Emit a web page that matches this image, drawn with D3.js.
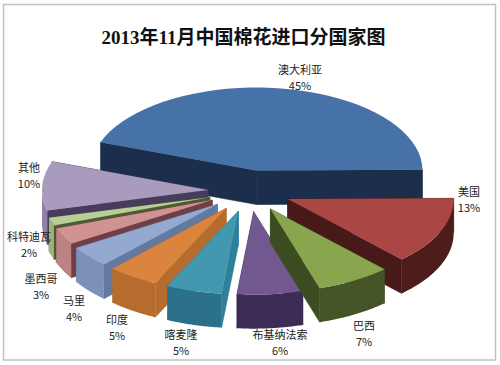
<!DOCTYPE html>
<html>
<head>
<meta charset="utf-8">
<script src="https://cdn.jsdelivr.net/npm/d3@7"></script>
<style>
html, body { margin: 0; padding: 0; background: #fff; }
svg { display: block; }
text { font-family: "Noto Sans CJK SC", sans-serif; fill: #222; }
</style>
</head>
<body>
<script>
// chart data
var countries = ["澳大利亚", "美国", "巴西", "布基纳法索", "喀麦隆", "印度", "马里", "墨西哥", "科特迪瓦", "其他"];
var shares = [44.6, 13.2, 7.3, 6.45, 5.45, 5, 4.2, 3.3, 1.6, 9.6];
var title = "2013年11月中国棉花进口分国家图";

// colours and label places, same order as countries
var topColors = ["#4672a8", "#aa4643", "#89a54e", "#71588f", "#4198af", "#db843d", "#93a9cf", "#d19392", "#b9cd96", "#a99bbd"];
var wallColors = ["#1b2e4b", "#471a19", "#3d4d22", "#38294f", "#2e7f9a", "#b56c2e", "#64799e", "#6f3f46", "#4c5b33", "#483c5c"];
var rimColors = ["#1b2e4b", "#4e1c1a", "#445426", "#3c2c55", "#2b7189", "#b56c2e", "#7d90b5", "#bd8382", "#9fb27c", "#8d7fa5"];
var labelX = [300, 469, 364, 280, 181, 117, 74, 41, 29, 29];
var labelY = [70, 192, 326, 335, 335, 320, 301, 279, 237, 168];

var width = 500, height = 365;
var cx = 249.5, cy = 191, rx = 166, ry = 83, depth = 34, explode = 0.25;
var deg = Math.PI / 180;

var svg = d3.select("body").append("svg")
    .attr("width", width)
    .attr("height", height);

// picture frame
svg.append("rect").attr("x", 3.5).attr("y", 4.5).attr("width", 492).attr("height", 355.5)
    .attr("fill", "#fff").attr("stroke", "#c0c0c0").attr("stroke-width", 1.5);

svg.append("text")
    .attr("x", 243.5).attr("y", 44)
    .attr("text-anchor", "middle")
    .style("font-size", "19px")
    .style("font-weight", "bold")
    .style("font-family", "'Liberation Serif', 'Noto Sans CJK SC', serif")
    .style("fill", "#111")
    .text(title);

var pie = d3.pie().sort(null)
    .startAngle(-70 * deg)
    .endAngle(290 * deg);

var slices = pie(shares).map(function (d) {
    var mid = (d.startAngle + d.endAngle) / 2;
    d.ox = cx + explode * rx * Math.sin(mid);
    d.oy = cy - explode * ry * Math.cos(mid);
    return d;
});

function pt(d, a, z) {
    return [d.ox + rx * Math.sin(a), d.oy - ry * Math.cos(a) + z];
}

var line = d3.line();

function rimPoints(d, a0, a1, z) {
    return d3.range(0, 41).map(function (i) {
        return pt(d, a0 + (a1 - a0) * i / 40, z);
    });
}

// back slices first, then round the left side, right side last
var order = [0, 9, 8, 7, 6, 5, 4, 3, 1, 2];

order.forEach(function (i) {
    var d = slices[i];
    var g = svg.append("g");

    // flat cut faces
    [d.startAngle, d.endAngle].forEach(function (a) {
        var p = pt(d, a, 0);
        g.append("path")
            .attr("d", line([[d.ox, d.oy], p, [p[0], p[1] + depth], [d.ox, d.oy + depth]]) + "Z")
            .attr("fill", wallColors[i])
            .attr("stroke", wallColors[i])
            .attr("stroke-width", 0.6);
    });

    // curved outer face, only the front half can be seen
    var a0 = Math.max(d.startAngle, 90 * deg), a1 = Math.min(d.endAngle, 270 * deg);
    if (a1 > a0) {
        g.append("path")
            .attr("d", line(rimPoints(d, a0, a1, 0).concat(rimPoints(d, a1, a0, depth))) + "Z")
            .attr("fill", rimColors[i]);
    }

    // top face
    g.append("path")
        .attr("d", line([[d.ox, d.oy]].concat(rimPoints(d, d.startAngle, d.endAngle, 0))) + "Z")
        .attr("fill", topColors[i]);
});

// labels
var labels = svg.selectAll("g.label")
    .data(slices)
    .enter()
    .append("g")
    .attr("class", "label")
    .attr("text-anchor", "middle")
    .style("font-size", "11px");

labels.append("text")
    .attr("x", function (d, i) { return labelX[i]; })
    .attr("y", function (d, i) { return labelY[i] + 4; })
    .text(function (d, i) { return countries[i]; });

labels.append("text")
    .attr("x", function (d, i) { return labelX[i]; })
    .attr("y", function (d, i) { return labelY[i] + 20; })
    .text(function (d) { return Math.round(d.value) + "%"; });
</script>
</body>
</html>
